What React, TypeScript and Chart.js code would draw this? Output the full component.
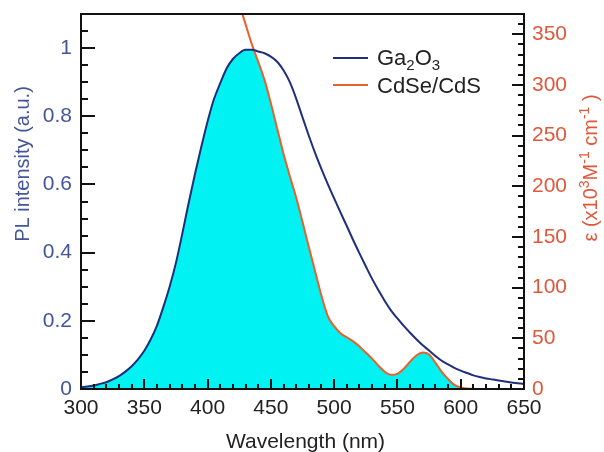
import React, { useEffect, useRef } from "react";
import { Chart, registerables } from "chart.js";

Chart.register(...registerables);

const wavelengths = [
  300, 305, 310, 315, 320, 325, 330, 335, 340, 345, 350, 355, 360, 365, 370, 375, 380, 385, 390, 395,
  400, 405, 410, 415, 420, 425, 430, 435, 440, 445, 450, 455, 460, 465, 470, 475, 480, 485, 490, 495,
  500, 505, 510, 515, 520, 525, 530, 535, 540, 545, 550, 555, 560, 565, 570, 575, 580, 585, 590, 595,
  600, 605, 610, 615, 620, 625, 630, 635, 640, 645, 650,
];

const ga2o3PL = [
  0.005, 0.007, 0.01, 0.015, 0.02, 0.028, 0.038, 0.051, 0.067, 0.087, 0.112, 0.145, 0.186, 0.24, 0.3, 0.37, 0.455, 0.545, 0.63, 0.71,
  0.785, 0.85, 0.897, 0.94, 0.968, 0.985, 0.995, 0.995, 0.99, 0.985, 0.975, 0.96, 0.935, 0.9, 0.852, 0.797, 0.743, 0.692, 0.645, 0.601,
  0.559, 0.518, 0.478, 0.437, 0.398, 0.36, 0.323, 0.29, 0.258, 0.23, 0.207, 0.185, 0.165, 0.146, 0.128, 0.113, 0.097, 0.083, 0.072, 0.062,
  0.054, 0.047, 0.04, 0.035, 0.031, 0.028, 0.025, 0.022, 0.019, 0.017, 0.015,
];

const cdseAbs: (number | null)[] = [
  null, null, null, null, null, null, null, null, null, null, null, null, null, null, null, null, null, null, null, null,
  null, null, 470, 430, 400, 380, 360, 340, 323, 305, 282, 257, 232, 210, 189, 165, 140, 116, 92, 72,
  62, 55, 51, 47, 42, 36, 30, 23, 17, 14, 15, 20, 27, 33, 36, 34, 26, 17, 10, 4,
  1.5, 0.5, 0, null, null, null, null, null, null, null, null,
];

const X_MIN = 300;
const X_MAX = 650;
const X_STEP = 50;
const X_MINOR = 10;
const YL_MAX = 1.1;
const YL_STEP = 0.2;
const YL_MINOR = 0.05;
const YR_MAX = 370;
const YR_STEP = 50;
const YR_MINOR = 10;

const FONT = "'Liberation Sans', Arial, sans-serif";
const BLUE = "#1f2f7a";
const ORANGE = "#e8602a";
const LEFT_TEXT = "#45559a";
const RIGHT_TEXT = "#e0583c";
const CYAN = "#00f2f2";

const firstAbs = cdseAbs.findIndex((v) => v !== null);
const overlapFill = wavelengths.map((_, i) => {
  if (i < firstAbs) return ga2o3PL[i];
  const a = cdseAbs[i] ?? 0;
  return Math.min(ga2o3PL[i], (a * YL_MAX) / YR_MAX);
});

type Seg = { t: string; sup?: boolean; sub?: boolean };

function drawRich(ctx: CanvasRenderingContext2D, segs: Seg[], x: number, y: number, size: number, center: boolean) {
  const small = Math.round(size * 0.68);
  const widths = segs.map((s) => {
    ctx.font = `${s.sup || s.sub ? small : size}px ${FONT}`;
    return ctx.measureText(s.t).width;
  });
  const total = widths.reduce((a, b) => a + b, 0);
  let cx = center ? x - total / 2 : x;
  ctx.textAlign = "left";
  ctx.textBaseline = "alphabetic";
  segs.forEach((s, i) => {
    ctx.font = `${s.sup || s.sub ? small : size}px ${FONT}`;
    let dy = 0;
    if (s.sup) dy = -size * 0.38;
    if (s.sub) dy = size * 0.22;
    ctx.fillText(s.t, cx, y + dy);
    cx += widths[i];
  });
}

const decorPlugin = {
  id: "decor",
  afterDatasetsDraw(chart: any) {
    const { ctx, chartArea: a, scales } = chart;
    const xs = scales.x;
    const yl = scales.y;
    const yr = scales.y2;
    ctx.save();
    ctx.strokeStyle = "#111";
    ctx.lineWidth = 2;
    ctx.beginPath();
    for (let v = X_MIN; v <= X_MAX + 1e-6; v += X_MINOR) {
      const px = Math.round(xs.getPixelForValue(v));
      const len = Math.abs(v % X_STEP) < 1e-6 ? 10 : 5;
      ctx.moveTo(px, a.bottom);
      ctx.lineTo(px, a.bottom - len);
    }
    const nL = Math.round(YL_MAX / YL_MINOR);
    for (let i = 0; i <= nL; i++) {
      const v = i * YL_MINOR;
      const py = Math.round(yl.getPixelForValue(v));
      const major = Math.abs(v / YL_STEP - Math.round(v / YL_STEP)) < 1e-6;
      ctx.moveTo(a.left, py);
      ctx.lineTo(a.left + (major ? 14 : 7), py);
    }
    for (let v = 0; v <= YR_MAX; v += YR_MINOR) {
      const py = Math.round(yr.getPixelForValue(v));
      const major = v % YR_STEP === 0;
      ctx.moveTo(a.right, py);
      ctx.lineTo(a.right - (major ? 12 : 6), py);
    }
    ctx.stroke();
    ctx.strokeRect(a.left, a.top, a.right - a.left, a.bottom - a.top);

    ctx.lineWidth = 2;
    ctx.strokeStyle = BLUE;
    ctx.beginPath();
    ctx.moveTo(333, 58);
    ctx.lineTo(368, 58);
    ctx.stroke();
    ctx.strokeStyle = ORANGE;
    ctx.beginPath();
    ctx.moveTo(333, 85);
    ctx.lineTo(368, 85);
    ctx.stroke();
    ctx.fillStyle = "#222";
    drawRich(ctx, [{ t: "Ga" }, { t: "2", sub: true }, { t: "O" }, { t: "3", sub: true }], 377, 65, 22, false);
    drawRich(ctx, [{ t: "CdSe/CdS" }], 377, 93, 22, false);

    ctx.fillStyle = "#222";
    drawRich(ctx, [{ t: "Wavelength (nm)" }], (a.left + a.right) / 2 + 3, 448, 21, true);

    ctx.save();
    ctx.translate(29, 164);
    ctx.rotate(-Math.PI / 2);
    ctx.fillStyle = LEFT_TEXT;
    drawRich(ctx, [{ t: "PL intensity (a.u.)" }], 0, 0, 20, true);
    ctx.restore();

    ctx.save();
    ctx.translate(597, 168);
    ctx.rotate(-Math.PI / 2);
    ctx.fillStyle = RIGHT_TEXT;
    drawRich(
      ctx,
      [
        { t: "ε (x10" },
        { t: "3", sup: true },
        { t: "M" },
        { t: "-1", sup: true },
        { t: " cm" },
        { t: "-1", sup: true },
        { t: " )" },
      ],
      0,
      0,
      20,
      true
    );
    ctx.restore();
    ctx.restore();
  },
};

export default function App() {
  const ref = useRef<HTMLCanvasElement | null>(null);
  useEffect(() => {
    document.body.style.margin = "0";
    const canvas = ref.current;
    if (!canvas) return;
    const chart = new Chart(canvas, {
      type: "line",
      data: {
        labels: wavelengths,
        datasets: [
          {
            label: "Ga2O3",
            data: wavelengths.map((w, i) => ({ x: w, y: ga2o3PL[i] })),
            borderColor: BLUE,
            borderWidth: 2,
            pointRadius: 0,
            fill: false,
            cubicInterpolationMode: "monotone",
            yAxisID: "y",
            order: 1,
          },
          {
            label: "CdSe/CdS",
            data: wavelengths.map((w, i) => ({ x: w, y: cdseAbs[i] })),
            borderColor: ORANGE,
            borderWidth: 2,
            pointRadius: 0,
            fill: false,
            spanGaps: false,
            cubicInterpolationMode: "monotone",
            yAxisID: "y2",
            order: 2,
          },
          {
            label: "overlap",
            data: wavelengths.map((w, i) => ({ x: w, y: overlapFill[i] })),
            borderWidth: 0,
            borderColor: "rgba(0,0,0,0)",
            backgroundColor: CYAN,
            pointRadius: 0,
            fill: "origin",
            cubicInterpolationMode: "monotone",
            yAxisID: "y",
            order: 10,
          },
        ] as any,
      },
      options: {
        animation: false,
        responsive: false,
        layout: { padding: { top: 14, left: 0, right: 0, bottom: 0 } },
        plugins: { legend: { display: false }, tooltip: { enabled: false } },
        scales: {
          x: {
            type: "linear",
            min: X_MIN,
            max: X_MAX,
            grid: { display: false, drawTicks: false },
            border: { display: false },
            ticks: {
              stepSize: X_STEP,
              includeBounds: false,
              padding: 7,
              color: "#222",
              font: { family: FONT, size: 21 },
              maxRotation: 0,
              autoSkip: false,
            },
            afterFit(s: any) {
              s.height = 63;
              s.paddingLeft = 0;
              s.paddingRight = 0;
            },
          },
          y: {
            type: "linear",
            position: "left",
            min: 0,
            max: YL_MAX,
            grid: { display: false, drawTicks: false },
            border: { display: false },
            ticks: {
              stepSize: YL_STEP,
              includeBounds: false,
              padding: 9,
              color: LEFT_TEXT,
              font: { family: FONT, size: 21 },
              callback: (v: number) => String(Number(v.toFixed(2))),
            },
            afterFit(s: any) {
              s.width = 81;
              s.paddingTop = 0;
              s.paddingBottom = 0;
            },
          },
          y2: {
            type: "linear",
            position: "right",
            min: 0,
            max: YR_MAX,
            grid: { display: false, drawTicks: false },
            border: { display: false },
            ticks: {
              stepSize: YR_STEP,
              includeBounds: false,
              padding: 8,
              color: RIGHT_TEXT,
              font: { family: FONT, size: 21 },
            },
            afterFit(s: any) {
              s.width = 80;
              s.paddingTop = 0;
              s.paddingBottom = 0;
            },
          },
        },
      } as any,
      plugins: [decorPlugin],
    });
    return () => chart.destroy();
  }, []);
  return (
    <div style={{ width: 604, height: 452 }}>
      <canvas ref={ref} width={604} height={452} style={{ width: 604, height: 452, display: "block" }} />
    </div>
  );
}
